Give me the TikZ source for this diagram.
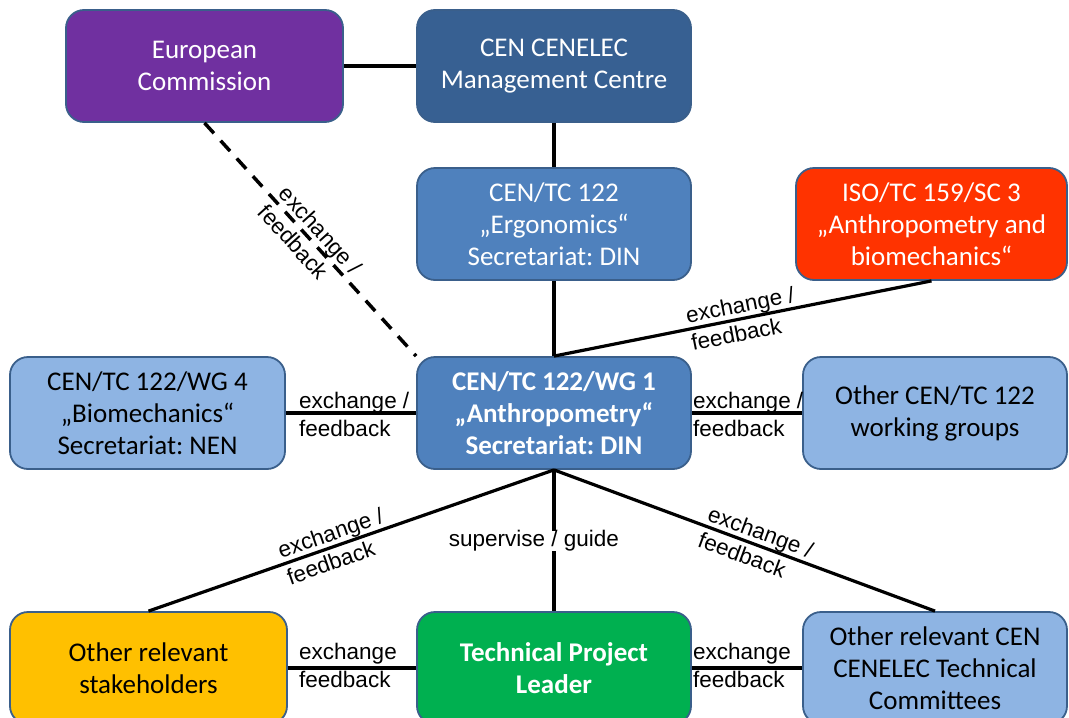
\documentclass[tikz,border=0pt]{standalone}
\usepackage{fontspec}
\setmainfont{Carlito}
\newfontfamily\labelfont{Liberation Sans}
\frenchspacing
\definecolor{cpurple}{HTML}{7030A0}
\definecolor{cdark}{HTML}{376092}
\definecolor{cmid}{HTML}{4F81BD}
\definecolor{clight}{HTML}{8EB4E3}
\definecolor{cred}{HTML}{FF3300}
\definecolor{corange}{HTML}{FFC000}
\definecolor{cgreen}{HTML}{00B050}
\definecolor{cborder}{HTML}{3A5F8B}
\begin{document}
\begin{tikzpicture}[x=1pt,y=-1pt,
  box/.style={draw=cborder, line width=1.8pt, rounded corners=18pt, minimum height=112pt,
    inner sep=0pt, align=center, font=\fontsize{27}{32}\selectfont\frenchspacing},
  wbox/.style={box, text=white},
  bbox/.style={box, text=black},
  conn/.style={line width=3.2pt, black},
  elabel/.style={font=\labelfont\fontsize{22.5}{28}\selectfont, align=left, inner sep=1pt, text=black}
]
\useasboundingbox (0,0) rectangle (1069,718);
% boxes
\node[wbox, fill=cpurple, minimum width=277pt] (ec) at (204.5,66) {European\\Commission};
\node[wbox, fill=cdark, minimum width=274pt] (mc) at (554,66) {CEN CENELEC\\Management Centre};
\node[wbox, fill=cmid, minimum width=274pt] (erg) at (554,224) {CEN/TC 122\\„Ergonomics“\\Secretariat: DIN};
\node[wbox, fill=cred, minimum width=271pt] (iso) at (931.5,224) {ISO/TC 159/SC 3\\„Anthropometry and\\biomechanics“};
\node[bbox, fill=clight, minimum width=275pt] (wg4) at (147.5,413) {CEN/TC 122/WG 4\\„Biomechanics“\\Secretariat: NEN};
\node[wbox, fill=cmid, minimum width=274pt, font=\fontsize{27}{32}\selectfont\bfseries\frenchspacing] (wg1) at (554,413) {CEN/TC 122/WG 1\\„Anthropometry“\\Secretariat: DIN};
\node[bbox, fill=clight, minimum width=264pt] (owg) at (935,413) {Other CEN/TC 122\\working groups};
\node[bbox, fill=corange, minimum width=277pt] (stk) at (148.5,668) {Other relevant\\stakeholders};
\node[wbox, fill=cgreen, minimum width=274pt, font=\fontsize{27}{32}\selectfont\bfseries] (tpl) at (554,668) {Technical Project\\Leader};
\node[bbox, fill=clight, minimum width=264pt] (ocen) at (935,668) {Other relevant CEN\\CENELEC Technical\\Committees};
% connectors
\draw[conn] (ec) -- (mc);
\draw[conn] (mc) -- (erg);
\draw[conn] (erg) -- (wg1);
\draw[conn] (iso.south) -- node[elabel, sloped, pos=0.5] {exchange /\\feedback} (wg1.north);
\draw[conn, line width=3.5pt, dash pattern=on 14pt off 10pt] (ec.south) -- node[elabel, sloped, pos=0.5] {exchange /\\feedback} (wg1.north west);
\draw[conn] (wg4) -- (wg1);
\node[elabel, anchor=west] (l1) at (298,414) {exchange /\\feedback};
\draw[conn] (wg1) -- (owg);
\node[elabel, anchor=west] (l2) at (692,414) {exchange /\\feedback};
\draw[conn] (stk.north) -- node[elabel, sloped, pos=0.46] {exchange /\\feedback} (wg1.south);
\draw[conn] (wg1.south) -- node[elabel, sloped, pos=0.53] {exchange /\\feedback} (ocen.north);
\draw[conn] (wg1) -- (tpl);
\node[elabel, fill=white, inner sep=0pt] (sg) at (534,541) {supervise / guide};
\draw[conn] (stk) -- (tpl);
\node[elabel, anchor=west] (l3) at (298,665) {exchange\\feedback};
\draw[conn] (tpl) -- (ocen);
\node[elabel, anchor=west] (l4) at (692,665) {exchange\\feedback};
\end{tikzpicture}
\end{document}
